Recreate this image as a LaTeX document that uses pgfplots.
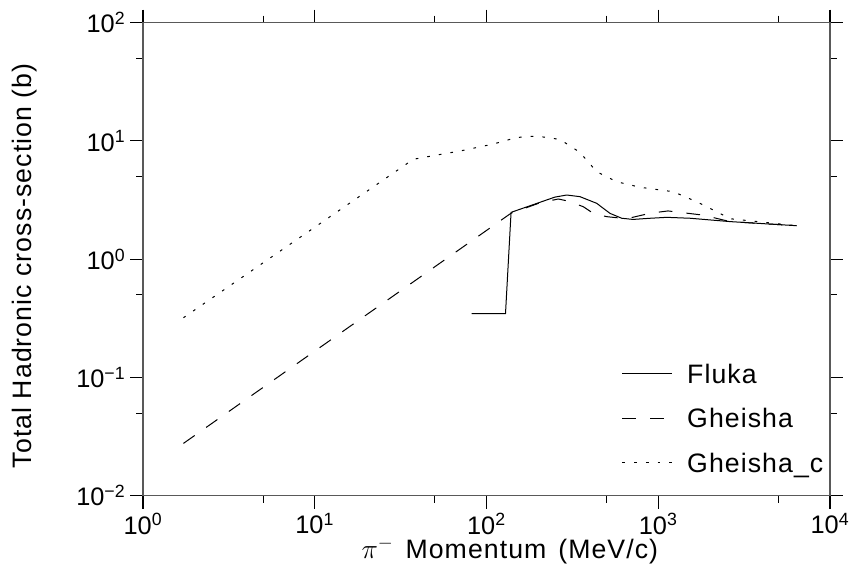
\documentclass[border=0pt]{standalone}
\usepackage{fontspec}
\setmainfont{Liberation Sans}
\newfontfamily\lblfont{Liberation Sans}[LetterSpace=4]
\usepackage{pgfplots}
\pgfplotsset{compat=1.18}
\begin{document}
\begin{tikzpicture}
\begin{loglogaxis}[
  at={(0,0)}, anchor=south west,
  scale only axis, width=515.25pt, height=354.75pt,
  xmin=1, xmax=10000, ymin=0.01, ymax=100,
  xtick={1,10,100,1000,10000},
  xticklabels={10\textsuperscript{0},10\textsuperscript{1},10\textsuperscript{2},10\textsuperscript{3},10\textsuperscript{4}},
  ytick={0.01,0.1,1,10,100},
  yticklabels={10\textsuperscript{−2},10\textsuperscript{−1},10\textsuperscript{0},10\textsuperscript{1},10\textsuperscript{2}},
  minor xtick={5,50,500,5000},
  minor ytick={0.05,0.5,5,50},
  tick align=outside,
  major tick length=9.75pt, minor tick length=5.25pt,
  tick style={black, line width=0.8pt},
  axis line style={line width=1.1pt, black!65},
  ticklabel style={font=\fontsize{19}{21}\selectfont},
  xlabel={$\pi^{-}$\hspace{0.45em}Momentum\hspace{0.45em}(MeV/c)},
  ylabel={Total Hadronic cross-section (b)},
  xlabel style={font=\lblfont\fontsize{20}{22}\selectfont, at={(axis description cs:0.534,-0.117)}, anchor=center},
  ylabel style={font=\lblfont\fontsize{20}{22}\selectfont, at={(axis description cs:-0.1718,0.486)}, anchor=center},
  legend cell align=left,
  legend image code/.code={\draw[#1] (0pt,0pt) -- (37.5pt,0pt);},
  legend style={draw=none, fill=none, at={(axis description cs:0.6968,0.2784)}, anchor=north west,
    inner sep=0pt, row sep=19pt, column sep=10.7pt,
    nodes={inner sep=0pt, text height=14.3pt, text depth=0pt, font=\lblfont\fontsize{20}{22}\selectfont}},
]
\addplot[black, line width=0.75pt] coordinates {
  (82,0.346) (129,0.346) (139,2.49) (205,3.03) (250,3.35) (293,3.49) (350,3.38) (438,2.97) (524,2.44) (613,2.22) (713,2.17) (900,2.22) (1120,2.26) (1531,2.22) (2617,2.08) (6400,1.92)
};
\addlegendentry{Fluka}
\addplot[black, line width=0.75pt, dash pattern=on 10.3pt off 10.5pt] coordinates {
  (1.72,0.0277) (139,2.45) (205,3.0) (262,3.23) (299,3.10) (366,2.78) (419,2.44) (501,2.29) (613,2.22) (700,2.25) (900,2.45) (1140,2.56) (1823,2.36) (2617,2.08) (6400,1.92)
};
\addlegendentry{Gheisha}
\addplot[black, line width=0.75pt, dash pattern=on 2pt off 6.8pt] coordinates {
  (1.72,0.32) (37.5,7.0) (51.3,7.6) (70.1,8.22) (109.6,9.42) (150,10.7) (196,11.0) (268,10.3) (350,8.0) (438,5.5) (573,4.52) (783,4.06) (1224,3.72) (1675,3.06) (2190,2.52) (2617,2.2) (6400,1.92)
};
\addlegendentry{Gheisha\_c}
\end{loglogaxis}
\pgfresetboundingbox
\useasboundingbox (-107.25pt,-59.475pt) rectangle (530.25pt,371.775pt);
\end{tikzpicture}
\end{document}
